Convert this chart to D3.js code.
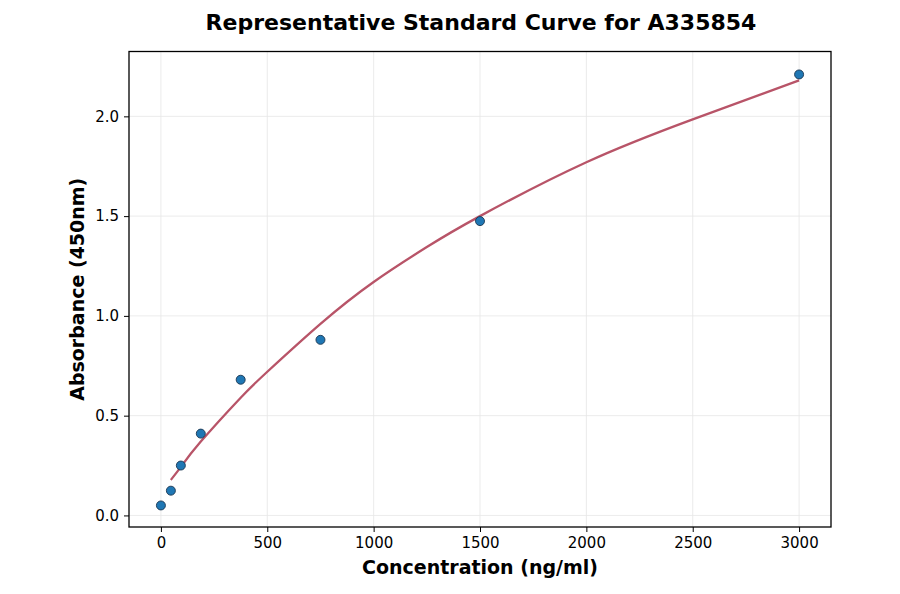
<!DOCTYPE html>
<html>
<head>
<meta charset="utf-8">
<script src="https://cdn.jsdelivr.net/npm/d3@7"></script>
<style>
  body { margin: 0; background: #fff; }
  svg { font-family: "DejaVu Sans", sans-serif; }
</style>
</head>
<body>
<div id="chart"></div>
<script>
// Standard points (concentration, absorbance)
const concentrations = [0, 46.875, 93.75, 187.5, 375, 750, 1500, 3000];
const absorbances = [0.05, 0.124, 0.25, 0.41, 0.68, 0.88, 1.475, 2.21];

// Fitted curve
const curveX = [46.875, 93.75, 187.5, 375, 500, 750, 1000, 1250, 1500, 2000, 2500, 3000];
const curveY = [0.178, 0.243, 0.37, 0.59, 0.72, 0.96, 1.17, 1.345, 1.5, 1.77, 1.985, 2.18];

const xTicks = [0, 500, 1000, 1500, 2000, 2500, 3000];
const yTicks = [0.0, 0.5, 1.0, 1.5, 2.0];

const width = 900;
const height = 594;
const margin = { top: 51.5, right: 69, bottom: 67, left: 129 };

const svg = d3.select("#chart")
  .append("svg")
  .attr("width", width)
  .attr("height", height);

// Scales
const x = d3.scaleLinear()
  .domain([-150, 3150])
  .range([margin.left, width - margin.right]);

const y = d3.scaleLinear()
  .domain([-0.058, 2.325])
  .range([height - margin.bottom, margin.top]);

// Grid
svg.append("g")
  .selectAll("line")
  .data(xTicks)
  .enter()
  .append("line")
  .attr("x1", d => x(d))
  .attr("x2", d => x(d))
  .attr("y1", margin.top)
  .attr("y2", height - margin.bottom)
  .attr("stroke", "#e6e6e6")
  .attr("stroke-width", 0.8);

svg.append("g")
  .selectAll("line")
  .data(yTicks)
  .enter()
  .append("line")
  .attr("x1", margin.left)
  .attr("x2", width - margin.right)
  .attr("y1", d => y(d))
  .attr("y2", d => y(d))
  .attr("stroke", "#e6e6e6")
  .attr("stroke-width", 0.8);

// Fitted curve
const line = d3.line()
  .x((d, i) => x(curveX[i]))
  .y(d => y(d))
  .curve(d3.curveNatural);

svg.append("path")
  .datum(curveY)
  .attr("fill", "none")
  .attr("stroke", "#b85468")
  .attr("stroke-width", 2.3)
  .attr("d", line);

// Points
svg.selectAll(".pt")
  .data(absorbances)
  .enter()
  .append("circle")
  .attr("class", "pt")
  .attr("cx", (d, i) => x(concentrations[i]))
  .attr("cy", d => y(d))
  .attr("r", 4.5)
  .attr("fill", "#1f77b4")
  .attr("stroke", "#1b3550")
  .attr("stroke-width", 0.9);

// X axis
const xAxis = svg.append("g")
  .attr("transform", `translate(0,${height - margin.bottom})`)
  .call(d3.axisBottom(x).tickValues(xTicks).tickFormat(d3.format("d")).tickSize(5).tickPadding(5));

// Y axis
const yAxis = svg.append("g")
  .attr("transform", `translate(${margin.left},0)`)
  .call(d3.axisLeft(y).tickValues(yTicks).tickFormat(d3.format(".1f")).tickSize(5).tickPadding(5));

[xAxis, yAxis].forEach(g => {
  g.select(".domain").remove();
  g.selectAll("text")
    .attr("font-size", "15px")
    .attr("font-family", "DejaVu Sans, sans-serif")
    .attr("fill", "#000");
  g.selectAll("line").attr("stroke", "#000").attr("stroke-width", 1);
});

// Frame
svg.append("rect")
  .attr("x", margin.left)
  .attr("y", margin.top)
  .attr("width", width - margin.left - margin.right)
  .attr("height", height - margin.top - margin.bottom)
  .attr("fill", "none")
  .attr("stroke", "#000")
  .attr("stroke-width", 1.3);

// Title and labels
svg.append("text")
  .attr("x", (margin.left + width - margin.right) / 2 + 1)
  .attr("y", 30)
  .attr("text-anchor", "middle")
  .attr("font-size", "22px")
  .attr("font-weight", "bold")
  .text("Representative Standard Curve for A335854");

svg.append("text")
  .attr("x", (margin.left + width - margin.right) / 2)
  .attr("y", 574)
  .attr("text-anchor", "middle")
  .attr("font-size", "19px")
  .attr("font-weight", "bold")
  .text("Concentration (ng/ml)");

svg.append("text")
  .attr("transform", `translate(84,${(margin.top + height - margin.bottom) / 2}) rotate(-90)`)
  .attr("text-anchor", "middle")
  .attr("font-size", "19px")
  .attr("font-weight", "bold")
  .text("Absorbance (450nm)");
</script>
</body>
</html>
